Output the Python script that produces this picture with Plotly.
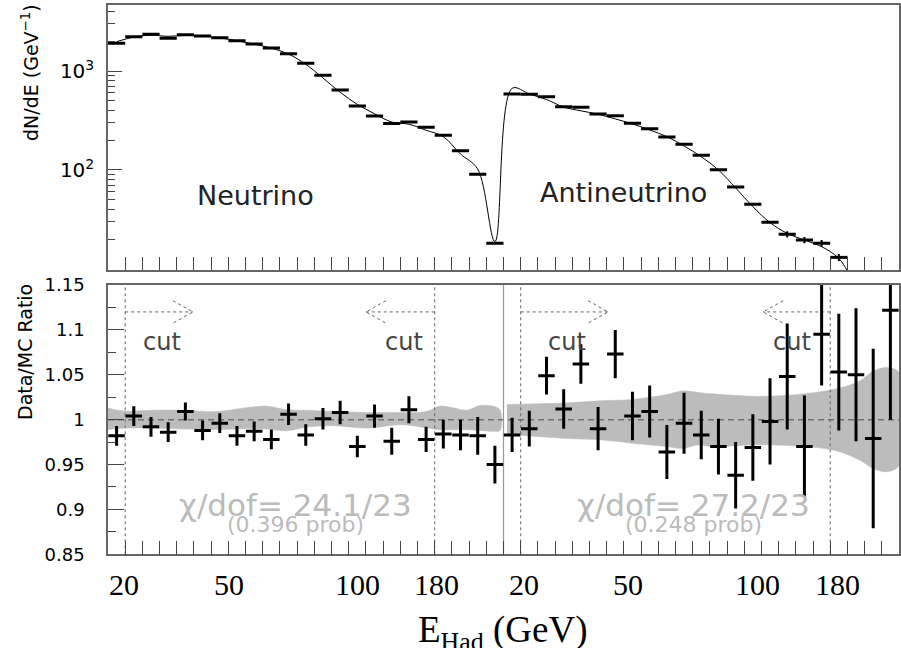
import plotly.graph_objects as go

# ---------------- data ----------------
# 46 hadronic-energy bins on a common index axis:
# bins 0-22 neutrino mode, bins 23-45 antineutrino mode
n_bins = 46

# measured spectrum dN/dE (GeV^-1); bins 43-45 fall below the plotted range
spec_data = [1905, 2222, 2350, 2140, 2330, 2260, 2170, 2023, 1874, 1707, 1497, 1197,
             904, 643, 443, 351, 294, 306, 270, 224, 156, 90.4, 18.2,
             586, 582, 550, 436, 430, 368, 354, 296, 261, 215, 182, 141, 100.7,
             67.3, 45.0, 29.6, 22.4, 19.6, 18.2, 13.1, None, None, None]
spec_err = [0, 0, 0, 0, 0, 0, 0, 0, 0, 0, 0, 0, 0, 0, 0, 0, 0, 0, 0, 0, 0, 0, 0,
            0, 0, 0, 0, 0, 0, 0, 0, 0, 0, 0, 0, 0, 0, 0, 0, 1.6, 1.4, 1.4, 1.1,
            0, 0, 0]

# Monte Carlo prediction (smooth curve)
mc_curve = [1977, 2200, 2300, 2240, 2290, 2250, 2160, 2020, 1870, 1700, 1480, 1170,
            850, 610, 460, 370, 305, 290, 252, 217, 145, 102, 18.9,
            668, 586, 515, 432, 396, 366, 328, 292, 254, 217, 175, 136, 100,
            66.0, 42.6, 29.4, 22.9, 19.6, 16.8, 12.8, 7.0, 5.0, 4.0]

# Data/MC ratio and its uncertainty
ratio = [0.982, 1.004, 0.992, 0.986, 1.009, 0.988, 0.996, 0.982, 0.987, 0.978, 1.006,
         0.983, 1.001, 1.008, 0.970, 1.004, 0.976, 1.011, 0.978, 0.984, 0.983, 0.982, 0.950,
         0.983, 0.990, 1.049, 1.012, 1.062, 0.990, 1.073, 1.004, 1.009, 0.964, 0.996,
         0.983, 0.970, 0.938, 0.969, 0.998, 1.048, 0.970, 1.095, 1.053, 1.050, 0.979, 1.122]
ratio_err = [0.011, 0.011, 0.011, 0.011, 0.010, 0.011, 0.011, 0.011, 0.011, 0.011, 0.012,
             0.012, 0.012, 0.013, 0.012, 0.013, 0.015, 0.015, 0.014, 0.016, 0.017, 0.021, 0.021,
             0.019, 0.020, 0.021, 0.022, 0.022, 0.024, 0.027, 0.027, 0.029, 0.030, 0.034,
             0.027, 0.031, 0.037, 0.037, 0.048, 0.059, 0.057, 0.057, 0.065, 0.074, 0.100, 0.122]

# MC systematic band (upper / lower edge) for each beam mode
band_nu_x = [0, 1.0, 2.5, 4.4, 6.3, 7.9, 9.3, 10.4, 11.6, 13.1, 15.1, 17.0, 18.5,
             19.3, 20.1, 20.9, 21.6, 22.4, 22.8]
band_nu_hi = [1.013, 1.0095, 1.0105, 1.0105, 1.009, 1.013, 1.015, 1.011, 1.0105, 1.009,
              1.008, 1.008, 1.009, 1.015, 1.013, 1.0105, 1.0157, 1.015, 1.011]
band_nu_lo = [0.9887, 0.9906, 0.9906, 0.9895, 0.9890, 0.9900, 0.9895, 0.9875, 0.9917,
              0.9932, 0.9906, 0.9944, 0.9910, 0.9887, 0.9887, 0.9887, 0.9880, 0.9870, 0.9880]
band_nub_x = [23.2, 26.7, 28.6, 30.5, 32.5, 33.4, 34.4, 35.0, 38.3, 42.2, 43.7, 44.5,
              45.3, 46.0]
band_nub_hi = [1.0169, 1.0187, 1.0210, 1.0225, 1.0280, 1.0320, 1.0300, 1.0290, 1.0260,
               1.0337, 1.0430, 1.0540, 1.0580, 1.0524]
band_nub_lo = [0.9838, 0.9790, 0.9775, 0.9737, 0.9700, 0.9680, 0.9720, 0.9700, 0.9719,
               0.9660, 0.9550, 0.9456, 0.9420, 0.9490]

# analysis cuts (bin-edge index), arrow direction and arrow length
cut_edges = [1, 19, 24, 42]
cut_dirs = [1, -1, 1, -1]
cut_arrow_len = [3.94, 4.0, 5.08, 3.9]

# energy labels under the axis
e_labels = ["20", "50", "100", "180", "20", "50", "100", "180"]
e_label_pos = [0.94, 7.02, 14.51, 19.1, 24.18, 30.26, 37.77, 42.42]

chi_text = ["\u03c7/dof= 24.1/23", "\u03c7/dof= 27.2/23"]
prob_text = ["(0.396 prob)", "(0.248 prob)"]
chi_pos = [10.93, 34.02]

# ---------------- figure ----------------
W, H = 901, 648
centers = [i + 0.5 for i in range(n_bins)]
edges = list(range(1, n_bins))

SANS = "DejaVu Sans"
SERIF = "Liberation Serif"
HIDDEN = dict(size=2, opacity=0, color="black", line=dict(width=0))

fig = go.Figure()

# --- top panel: spectrum ---
fig.add_trace(go.Scatter(x=centers, y=mc_curve, mode="lines",
                         line=dict(color="black", width=1, shape="spline", smoothing=1.0),
                         xaxis="x", yaxis="y", hoverinfo="skip"))
fig.add_trace(go.Scatter(x=centers, y=spec_data, mode="markers", marker=HIDDEN,
                         error_x=dict(type="constant", value=0.5, thickness=3, width=0, color="black"),
                         error_y=dict(type="data", array=spec_err, thickness=2, width=0, color="black"),
                         xaxis="x", yaxis="y"))

# --- bottom panel: ratio ---
def band_poly(xs, hi, lo):
    return xs + xs[::-1], hi + lo[::-1]

for bx, bhi, blo in [(band_nu_x, band_nu_hi, band_nu_lo), (band_nub_x, band_nub_hi, band_nub_lo)]:
    px, py = band_poly(bx, bhi, blo)
    fig.add_trace(go.Scatter(x=px, y=py, mode="lines", fill="toself",
                             fillcolor="#bcbcbc", line=dict(color="#bcbcbc", width=0.5, shape="spline"),
                             xaxis="x2", yaxis="y2", hoverinfo="skip"))

# reference line at ratio = 1
fig.add_trace(go.Scatter(x=[0, n_bins], y=[1, 1], mode="lines",
                         line=dict(color="#707070", width=1.5, dash="6px,4px"),
                         xaxis="x2", yaxis="y2", hoverinfo="skip"))

# separator between the two beam modes
fig.add_trace(go.Scatter(x=[23, 23], y=[0.85, 1.15], mode="lines",
                         line=dict(color="#999999", width=1.2),
                         xaxis="x2", yaxis="y2", hoverinfo="skip"))

# cut lines and arrows
arrow_y = 1.12
head_dx, head_dy = 1.16, 0.0125
for ce, cd, cl in zip(cut_edges, cut_dirs, cut_arrow_len):
    fig.add_trace(go.Scatter(x=[ce, ce], y=[0.85, 1.15], mode="lines",
                             line=dict(color="#666666", width=1, dash="dot"),
                             xaxis="x2", yaxis="y2", hoverinfo="skip"))
    tip = ce + cd * cl
    fig.add_trace(go.Scatter(
        x=[ce, tip, None, tip - cd * head_dx, tip, tip - cd * head_dx],
        y=[arrow_y, arrow_y, None, arrow_y + head_dy, arrow_y, arrow_y - head_dy],
        mode="lines", line=dict(color="#666666", width=1, dash="dot"),
        xaxis="x2", yaxis="y2", hoverinfo="skip"))

fig.add_trace(go.Scatter(x=centers, y=ratio, mode="markers", marker=HIDDEN,
                         error_x=dict(type="constant", value=0.48, thickness=3, width=0, color="black"),
                         error_y=dict(type="data", array=ratio_err, thickness=3, width=0, color="black"),
                         xaxis="x2", yaxis="y2"))

# ---------------- axes ----------------
xdom = [108 / W, 899 / W]
top_dom = [1 - 270 / H, 1 - 4.7 / H]
bot_dom = [1 - 554.3 / H, 1 - 285 / H]
frame = dict(showline=True, linecolor="#666666", linewidth=1.5, mirror=True,
             showgrid=False, zeroline=False, automargin=False)

fig.update_layout(
    width=W, height=H, margin=dict(l=0, r=0, t=0, b=0),
    paper_bgcolor="white", plot_bgcolor="white", showlegend=False,
    xaxis=dict(domain=xdom, range=[0, n_bins], anchor="y", tickvals=edges,
               ticks="inside", ticklen=13, tickcolor="#444444", tickwidth=1,
               showticklabels=False, **frame),
    yaxis=dict(domain=top_dom, type="log", range=[0.9897, 3.6697], anchor="x",
               tickvals=[100, 1000], ticktext=["10<sup>2</sup>", "10<sup>3</sup>"],
               ticks="inside", ticklen=14, tickcolor="#444444", tickwidth=1,
               ticklabelstandoff=8,
               tickfont=dict(family=SANS, size=20, color="black"),
               minor=dict(tickvals=[20, 30, 40, 50, 60, 70, 80, 90, 200, 300, 400, 500,
                                    600, 700, 800, 900, 2000, 3000, 4000],
                          ticks="inside", ticklen=7, tickcolor="#444444", tickwidth=1),
               **frame),
    xaxis2=dict(domain=xdom, range=[0, n_bins], anchor="y2", tickvals=edges,
                ticks="inside", ticklen=14, tickcolor="#444444", tickwidth=1,
                showticklabels=False, **frame),
    yaxis2=dict(domain=bot_dom, range=[0.85, 1.15], anchor="x2",
                tickvals=[0.85, 0.9, 0.95, 1.0, 1.05, 1.1, 1.15],
                ticktext=["0.85", "0.9", "0.95", "1", "1.05", "1.1", "1.15"],
                ticks="inside", ticklen=16, tickcolor="#444444", tickwidth=1,
                ticklabelstandoff=18,
                tickfont=dict(family=SANS, size=18, color="black"),
                minor=dict(tickvals=[0.875, 0.925, 0.975, 1.025, 1.075, 1.125],
                           ticks="inside", ticklen=8, tickcolor="#444444", tickwidth=1),
                **frame),
)

ann = []
C = dict(showarrow=False, xanchor="center", yanchor="middle")
# panel titles
ann.append(dict(text="Neutrino", x=8.55, y=1.747, xref="x", yref="y",
                font=dict(family=SANS, size=27, color="#222222"), **C))
ann.append(dict(text="Antineutrino", x=29.95, y=1.768, xref="x", yref="y",
                font=dict(family=SANS, size=27, color="#222222"), **C))
# cut labels
for cx in [3.14, 17.2, 26.7, 39.8]:
    ann.append(dict(text="cut", x=cx, y=1.0864, xref="x2", yref="y2",
                    font=dict(family=SANS, size=24, color="#444444"), **C))
# fit quality
for t, p, cx in zip(chi_text, prob_text, chi_pos):
    ann.append(dict(text=t, x=cx, y=0.9045, xref="x2", yref="y2",
                    font=dict(family=SANS, size=31, color="#bbbbbb"), **C))
    ann.append(dict(text=p, x=cx, y=0.8830, xref="x2", yref="y2",
                    font=dict(family=SANS, size=22, color="#bbbbbb"), **C))
# energy labels
for t, xp in zip(e_labels, e_label_pos):
    ann.append(dict(text=t, x=xp, y=1 - 584 / H, xref="x2", yref="paper",
                    font=dict(family=SERIF, size=30, color="black"), **C))
# axis titles
ann.append(dict(text="E<sub>Had</sub> (GeV)", x=503 / W, y=1 - 632 / H, xref="paper",
                yref="paper", font=dict(family=SERIF, size=37, color="black"), **C))
ann.append(dict(text="dN/dE (GeV<sup>\u22121</sup>)", x=30 / W, y=1 - 73 / H, xref="paper",
                yref="paper", textangle=-90,
                font=dict(family=SANS, size=19, color="black"), **C))
ann.append(dict(text="Data/MC Ratio", x=25 / W, y=1 - 352 / H, xref="paper",
                yref="paper", textangle=-90,
                font=dict(family=SANS, size=19, color="black"), **C))
fig.update_layout(annotations=ann)

fig.write_html("out.html")
